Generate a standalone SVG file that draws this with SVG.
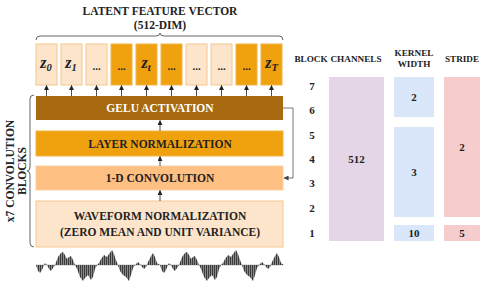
<svg xmlns="http://www.w3.org/2000/svg" width="480" height="284" viewBox="0 0 480 284">
<style>
text{font-family:"Liberation Serif","Times New Roman",serif;font-weight:bold;fill:#222}
.t{font-size:11.5px;text-anchor:middle}
.h{font-size:9.2px;text-anchor:middle}
.n{font-size:11px;text-anchor:middle}
.z{font-size:16px;font-style:italic;text-anchor:middle}
.zs{font-size:10.5px}
.dots{font-size:11px;text-anchor:middle}
.lt{fill:#fde5cc;stroke:#f6c690;stroke-width:1}
.dk{fill:#f0a10e;stroke:#f3b446;stroke-width:1}
.con line{stroke:#222;stroke-width:0.8;marker-end:url(#ah)}
.brace{fill:none;stroke:#666;stroke-width:1}
</style>
<defs>
<marker id="ah" viewBox="0 0 6 6" refX="5.5" refY="3" markerWidth="5" markerHeight="5" orient="auto" markerUnits="userSpaceOnUse"><path d="M0,0 L6,3 L0,6 z" fill="#222"/></marker>
<marker id="ahg" viewBox="0 0 6 6" refX="5.5" refY="3" markerWidth="5" markerHeight="5" orient="auto" markerUnits="userSpaceOnUse"><path d="M0,0 L6,3 L0,6 z" fill="#444"/></marker>
<pattern id="stripes" width="2" height="10" patternUnits="userSpaceOnUse"><rect width="2" height="10" fill="#8a8a8a"/><rect width="1" height="10" fill="#3a3a3a"/></pattern>
<polygon id="wave" points="36,265 38,271 40,273 42,270 44,265 45,263 47,265 49,269 51,271 53,268 55,265 58,257 61,253 63,252 65,255 67,259 69,257 71,256 73,260 75,265 77,269 80,277 83,281 85,278 88,275 91,280 93,277 95,269 97,265 99,263 101,259 104,255 107,257 109,254 112,250 114,254 116,260 118,265 120,271 123,275 126,277 129,281 131,275 133,268 135,265 138,262 140,264 142,267 144,269 146,267 148,262 151,256 153,253 155,257 157,263 160,265"/>
</defs>

<g id="title">
<text class="t" x="160" y="15">LATENT FEATURE VECTOR</text>
<text class="t" x="160" y="29">(512-DIM)</text>
<path class="brace" d="M36,40 Q36,36 40,36 L156,36 Q160,36 160,33 Q160,36 164,36 L279,36 Q283,36 283,40"/>
</g>

<g id="z0"><rect class="lt" x="36" y="44" width="21" height="41"/><text class="z" x="46" y="68">z<tspan class="zs" dy="3">0</tspan></text></g>
<g id="z1"><rect class="lt" x="61" y="44" width="21" height="41"/><text class="z" x="71" y="68">z<tspan class="zs" dy="3">1</tspan></text></g>
<g id="d1"><rect class="lt" x="86" y="44" width="21" height="41"/><text class="dots" x="96.5" y="70">...</text></g>
<g id="d2"><rect class="dk" x="111" y="44" width="21" height="41"/><text class="dots" x="121.5" y="70">...</text></g>
<g id="zt"><rect class="dk" x="136" y="44" width="21" height="41"/><text class="z" x="146" y="68">z<tspan class="zs" dy="3">t</tspan></text></g>
<g id="d3"><rect class="dk" x="161" y="44" width="21" height="41"/><text class="dots" x="171.5" y="70">...</text></g>
<g id="d4"><rect class="lt" x="186" y="44" width="21" height="41"/><text class="dots" x="196.5" y="70">...</text></g>
<g id="d5"><rect class="lt" x="211" y="44" width="21" height="41"/><text class="dots" x="221.5" y="70">...</text></g>
<g id="d6"><rect class="dk" x="236" y="44" width="21" height="41"/><text class="dots" x="246.5" y="70">...</text></g>
<g id="zT"><rect class="dk" x="261" y="44" width="21" height="41"/><text class="z" x="271.5" y="68">z<tspan class="zs" dy="3">T</tspan></text></g>

<g id="gelu"><rect x="36" y="96" width="247" height="24" fill="#a76a10"/><text class="t" x="160" y="112" style="fill:#fff">GELU ACTIVATION</text></g>
<g id="layernorm"><rect x="36" y="131" width="247" height="25" fill="#f0a10e" stroke="#f3b446"/><text class="t" x="160" y="147.5">LAYER NORMALIZATION</text></g>
<g id="conv"><rect x="36" y="166" width="247" height="24" fill="#fdbf82" stroke="#fbcf9f"/><text class="t" x="160" y="182">1-D CONVOLUTION</text></g>
<g id="waveform"><rect class="lt" x="36" y="201" width="247" height="46"/><text class="t" x="160" y="220">WAVEFORM NORMALIZATION</text><text class="t" x="160" y="236">(ZERO MEAN AND UNIT VARIANCE)</text></g>

<g id="blocks-label">
<path class="brace" d="M34,95 Q30,95 30,99 L30,167 Q30,171 27,171 Q30,171 30,175 L30,243 Q30,247 34,247"/>
<text class="t" transform="translate(14,171) rotate(-90)">x7 CONVOLUTION</text>
<text class="t" transform="translate(26,171) rotate(-90)">BLOCKS</text>
</g>

<g id="signal">
<line x1="36" y1="265" x2="283" y2="265" stroke="#888" stroke-width="0.5"/>
<use href="#wave" fill="url(#stripes)"/>
<use href="#wave" fill="url(#stripes)" transform="translate(124,0)"/>
</g>

<g id="connectors" class="con">
<line x1="46.5" y1="96" x2="46.5" y2="85.5"/>
<line x1="71.5" y1="96" x2="71.5" y2="85.5"/>
<line x1="96.5" y1="96" x2="96.5" y2="85.5"/>
<line x1="121.5" y1="96" x2="121.5" y2="85.5"/>
<line x1="146.5" y1="96" x2="146.5" y2="85.5"/>
<line x1="171.5" y1="96" x2="171.5" y2="85.5"/>
<line x1="196.5" y1="96" x2="196.5" y2="85.5"/>
<line x1="221.5" y1="96" x2="221.5" y2="85.5"/>
<line x1="246.5" y1="96" x2="246.5" y2="85.5"/>
<line x1="271.5" y1="96" x2="271.5" y2="85.5"/>
<line x1="160" y1="131" x2="160" y2="120.5"/>
<line x1="160" y1="166" x2="160" y2="156.5"/>
<line x1="160" y1="201" x2="160" y2="190.5"/>
<polyline points="283,108 293,108 293,178 284,178" fill="none" stroke="#555" stroke-width="0.8" marker-end="url(#ahg)"/>
</g>

<g id="table-header">
<text class="h" x="311" y="62">BLOCK</text>
<text class="h" x="356" y="62">CHANNELS</text>
<text class="h" x="414" y="56">KERNEL</text>
<text class="h" x="414" y="67">WIDTH</text>
<text class="h" x="462" y="62">STRIDE</text>
</g>
<g id="block-numbers">
<text class="n" x="312" y="90">7</text>
<text class="n" x="312" y="114">6</text>
<text class="n" x="312" y="139">5</text>
<text class="n" x="312" y="163">4</text>
<text class="n" x="312" y="187">3</text>
<text class="n" x="312" y="212">2</text>
<text class="n" x="312" y="237">1</text>
</g>
<g id="channels"><rect x="329" y="77" width="55" height="164" fill="#e5d6e7"/><text class="n" x="356.5" y="163">512</text></g>
<g id="kernel-2"><rect x="394" y="77" width="40" height="40" fill="#dae7fa"/><text class="n" x="414" y="101">2</text></g>
<g id="kernel-3"><rect x="394" y="127" width="40" height="90" fill="#dae7fa"/><text class="n" x="414" y="176">3</text></g>
<g id="kernel-10"><rect x="394" y="225" width="40" height="16" fill="#dae7fa"/><text class="n" x="414" y="237">10</text></g>
<g id="stride-2"><rect x="444" y="77" width="36" height="140" fill="#f6cdcc"/><text class="n" x="462" y="151">2</text></g>
<g id="stride-5"><rect x="444" y="225" width="36" height="16" fill="#f6cdcc"/><text class="n" x="462" y="237">5</text></g>
</svg>
